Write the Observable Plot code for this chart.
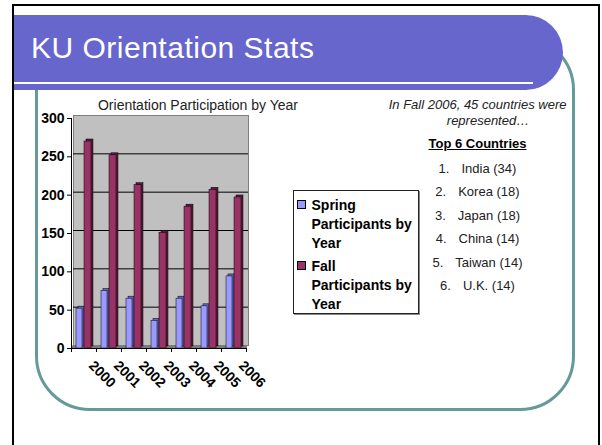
<!DOCTYPE html>
<html>
<head>
<meta charset="utf-8">
<script src="https://cdn.jsdelivr.net/npm/d3@7"></script>
<script src="https://cdn.jsdelivr.net/npm/@observablehq/plot@0.6"></script>
<style>
  html, body { margin: 0; padding: 0; background: #fff; }
  #slide { position: relative; width: 602px; height: 445px; overflow: hidden; background: #fff;
           font-family: "Liberation Sans", Arial, Helvetica, sans-serif; }
  .abs { position: absolute; }
  .t { position: absolute; white-space: pre; line-height: 1; }
</style>
</head>
<body>
<div id="slide"></div>
<script>
// ---- data ----
const slideTitle = "KU Orientation Stats";
const chartTitle = "Orientation Participation by Year";
const years = ["2000", "2001", "2002", "2003", "2004", "2005", "2006"];
const springValues = [52, 75, 65, 36, 65, 55, 94];
const fallValues = [270, 252, 213, 151, 185, 207, 197];
const yTicks = [0, 50, 100, 150, 200, 250, 300];
const gridValues = [50, 100, 150, 200, 250];
const seriesNames = ["Spring Participants by Year", "Fall Participants by Year"];
const seriesColors = ["#9999ff", "#993366"];
const seriesSideColors = ["#6666b8", "#5a1c3c"];
const noteLines = ["In Fall 2006, 45 countries were", "represented\u2026"];
const listHeading = "Top 6 Countries";
const countryNames = ["India", "Korea", "Japan", "China", "Taiwan", "U.K."];
const countryCounts = [34, 18, 18, 14, 14, 14];

const slide = document.getElementById("slide");
function box(css) { const d = document.createElement("div"); d.className = "abs"; Object.assign(d.style, css); slide.appendChild(d); return d; }
function label(text, o) {
  const d = document.createElement("div");
  d.className = "t";
  d.textContent = text;
  const size = o.size;
  d.style.fontSize = size + "px";
  d.style.top = (o.baseline - 0.8465 * size) + "px";
  if (o.weight) d.style.fontWeight = o.weight;
  if (o.italic) d.style.fontStyle = "italic";
  if (o.color) d.style.color = o.color;
  if (o.decoration) d.style.textDecoration = o.decoration;
  if (o.spacing) d.style.letterSpacing = o.spacing + "px";
  if (o.anchor === "middle") { d.style.left = (o.x - 300) + "px"; d.style.width = "600px"; d.style.textAlign = "center"; }
  else if (o.anchor === "end") { d.style.right = (602 - o.x) + "px"; d.style.textAlign = "right"; }
  else d.style.left = o.x + "px";
  slide.appendChild(d);
  return d;
}

// ---- slide decoration ----
box({left: "12px", top: "4px", width: "588px", height: "470px", border: "2px solid #000", boxSizing: "border-box"});
box({left: "35px", top: "35px", width: "540px", height: "375.5px", border: "3px solid #669999", borderRadius: "55px", boxSizing: "border-box"});
box({left: "14px", top: "15px", width: "549px", height: "75px", background: "#6666cc", borderRadius: "0 38px 38px 0"});
box({left: "14px", top: "82px", width: "519px", height: "2px", background: "#fff"});
label(slideTitle, {x: 31, baseline: 58.5, size: 30, color: "#fff", spacing: 0.5});

// ---- chart ----
const rows = years.map((y, i) => ({year: y, spring: springValues[i], fall: fallValues[i]}));

const chart = Plot.plot({
  width: 602,
  height: 445,
  marginLeft: 71,
  marginRight: 356,
  marginTop: 118,
  marginBottom: 97,
  x: {domain: years, padding: 0, label: null},
  y: {domain: [0, 300], label: null},
  style: {background: "transparent", fontFamily: "'Liberation Sans', Arial, sans-serif", overflow: "visible"},
  marks: [
    // back wall
    Plot.frame({fill: "#c0c0c0", stroke: "#808080", dx: 2, dy: -3}),
    Plot.ruleY(gridValues, {stroke: "#000", strokeWidth: 1, dx: 2, dy: -3}),
    // floor
    Plot.ruleY([0], {stroke: "#7a7a7a", strokeWidth: 3, dx: 1, dy: -1.5}),
    // spring bars (side + front)
    Plot.barY(rows, {x: "year", y: "spring", insetLeft: 7, insetRight: 12, dy: -2, fill: seriesSideColors[0], stroke: "#000", strokeWidth: 0.5}),
    Plot.barY(rows, {x: "year", y: "spring", insetLeft: 5, insetRight: 14, fill: seriesColors[0], stroke: "#000", strokeWidth: 0.5}),
    // fall bars (side + front)
    Plot.barY(rows, {x: "year", y: "fall", insetLeft: 15, insetRight: 3, dy: -2, fill: seriesSideColors[1], stroke: "#000", strokeWidth: 0.5}),
    Plot.barY(rows, {x: "year", y: "fall", insetLeft: 13, insetRight: 5, fill: seriesColors[1], stroke: "#000", strokeWidth: 0.5}),
    // axes lines
    Plot.ruleX([years[0]], {dx: -12.5, stroke: "#000"}),
    Plot.ruleY([0], {stroke: "#000"}),
    Plot.axisY({ticks: yTicks, tickSize: 4, tickPadding: 3, fontSize: 14, fontWeight: "bold", label: null, tickFormat: d => String(d), color: "#000"}),
    Plot.axisX(years, {tickSize: 4, dx: -12.5, tickFormat: () => "", label: null}),
    Plot.axisX([years[years.length - 1]], {tickSize: 4, dx: 12.5, tickFormat: () => "", label: null}),
    Plot.text(years, {x: d => d, frameAnchor: "bottom", dx: 4, dy: 18, rotate: 45, textAnchor: "start", fontSize: 14, fontWeight: "bold", fill: "#000"})
  ]
});
chart.style.position = "absolute";
chart.style.left = "0px";
chart.style.top = "0px";
slide.appendChild(chart);

label(chartTitle, {x: 198, baseline: 110, size: 14, color: "#222", anchor: "middle"});

// ---- legend ----
box({left: "292.5px", top: "190px", width: "126.5px", height: "124px", border: "1px solid #222", boxSizing: "border-box", background: "#fff", boxShadow: "1px 1px 0 #888"});
const legendTops = [195.6, 256.6];
seriesNames.forEach((name, i) => {
  box({left: "297px", top: (legendTops[i] + 4.6) + "px", width: "9px", height: "9px", background: seriesColors[i], border: "1px solid #000", boxSizing: "border-box"});
  const d = box({left: "311.5px", top: legendTops[i] + "px", width: "106px", fontSize: "14px", fontWeight: "bold", lineHeight: "19px", color: "#000"});
  d.textContent = name;
});

// ---- notes ----
label(noteLines[0], {x: 566.5, baseline: 109, size: 13, italic: true, color: "#222", anchor: "end"});
label(noteLines[1], {x: 488, baseline: 125, size: 13, italic: true, color: "#222", anchor: "middle"});
label(listHeading, {x: 477.5, baseline: 148, size: 13, weight: "bold", color: "#000", anchor: "middle", decoration: "underline"});
countryNames.forEach((c, i) => {
  const baseline = 172.8 + i * 23.45;
  const d = document.createElement("div");
  d.className = "t";
  Object.assign(d.style, {left: "277.5px", width: "400px", textAlign: "center", fontSize: "13px", color: "#222", top: (baseline - 0.8465 * 13) + "px"});
  const n = document.createElement("span"); n.textContent = (i + 1) + ".";
  const s = document.createElement("span"); s.textContent = `${c} (${countryCounts[i]})`; s.style.marginLeft = "12px";
  d.appendChild(n); d.appendChild(s);
  slide.appendChild(d);
});
</script>
</body>
</html>
